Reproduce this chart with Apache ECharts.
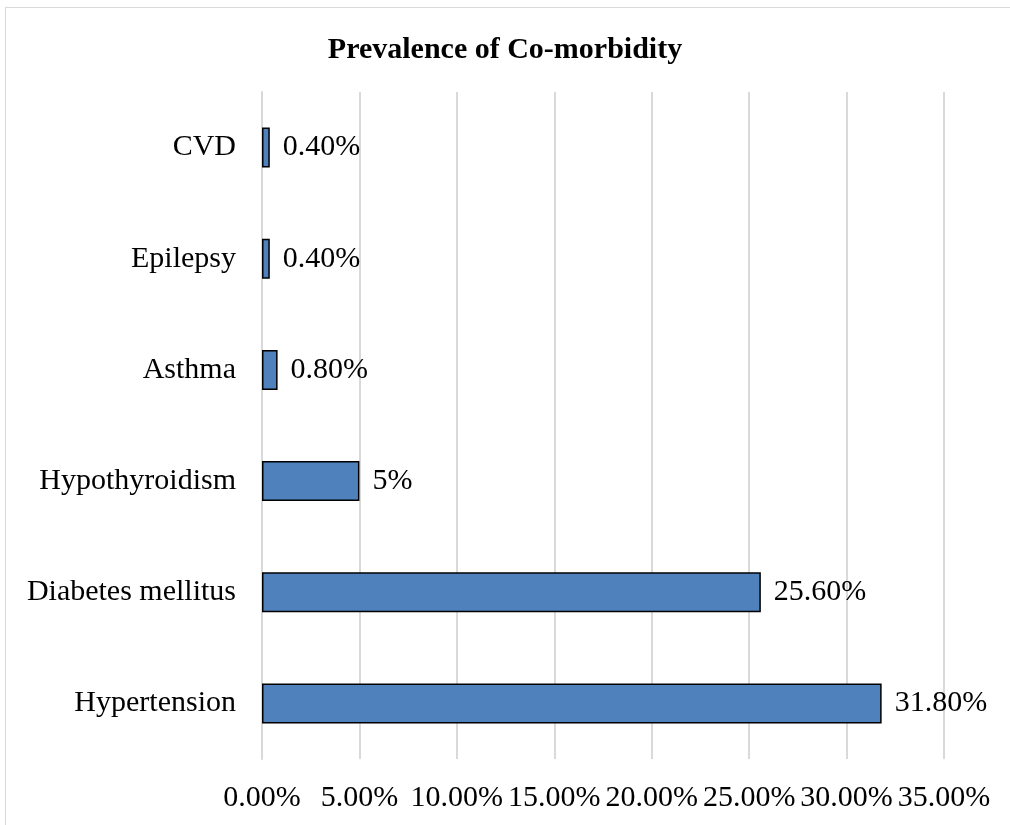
<!DOCTYPE html>
<html>
<head>
<meta charset="utf-8">
<script src="https://cdn.jsdelivr.net/npm/echarts@6/dist/echarts.min.js"></script>
<style>
  html, body { margin: 0; padding: 0; background: #fff; }
  #chart { width: 1010px; height: 825px; }
  .frame { position: absolute; left: 5px; top: 7px; width: 1020px; height: 840px; border: 1px solid #d9d9d9; box-sizing: border-box; pointer-events: none; }
</style>
</head>
<body>
<div id="chart"></div>
<div class="frame"></div>
<script>
// 数据（自下而上）
const categories = ['Hypertension', 'Diabetes mellitus', 'Hypothyroidism', 'Asthma', 'Epilepsy', 'CVD'];
const values = [31.8, 25.6, 5, 0.8, 0.4, 0.4];
const valueLabels = ['31.80%', '25.60%', '5%', '0.80%', '0.40%', '0.40%'];

const font = '"Liberation Serif", "Times New Roman", serif';
const chartDom = document.getElementById('chart');
const myChart = echarts.init(chartDom);

const option = {
  animation: false,
  title: {
    text: 'Prevalence of Co-morbidity',
    left: 'center',
    top: 30,
    textStyle: { fontFamily: font, fontSize: 30, fontWeight: 'bold', color: '#000' }
  },
  grid: { left: 262, right: 66, top: 92, bottom: 66, containLabel: false },
  xAxis: {
    type: 'value',
    min: 0,
    max: 35,
    interval: 5,
    axisLine: { show: false },
    axisTick: { show: false },
    axisLabel: {
      margin: 24,
      fontFamily: font,
      fontSize: 30,
      color: '#000',
      formatter: (v) => v.toFixed(2) + '%'
    },
    splitLine: { show: true, lineStyle: { color: '#d9d9d9', width: 2 } }
  },
  yAxis: {
    type: 'category',
    data: categories,
    axisLine: { show: true, lineStyle: { color: '#d9d9d9', width: 2 } },
    axisTick: { show: false },
    axisLabel: { margin: 26, fontFamily: font, fontSize: 30, color: '#000' }
  },
  series: [{
    type: 'bar',
    data: values,
    barWidth: 40,
    itemStyle: { color: '#4f81bd', borderColor: '#000', borderWidth: 1.5 },
    label: {
      show: true,
      position: 'right',
      distance: 13,
      fontFamily: font,
      fontSize: 30,
      color: '#000',
      formatter: (p) => valueLabels[p.dataIndex]
    }
  }]
};

myChart.setOption(option);
</script>
</body>
</html>
